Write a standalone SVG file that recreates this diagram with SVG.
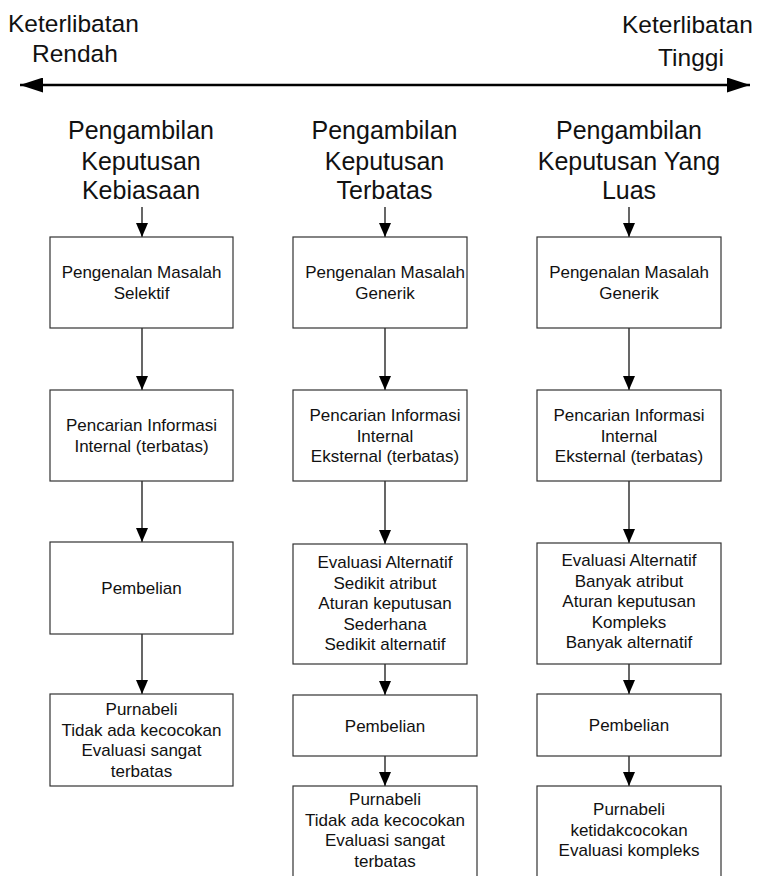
<svg xmlns="http://www.w3.org/2000/svg" width="759" height="876" viewBox="0 0 759 876">
  <defs>
    <marker id="head" markerUnits="userSpaceOnUse" markerWidth="14" markerHeight="12" viewBox="0 0 14 12" refX="14" refY="6" orient="auto">
      <path d="M0,0 L14,6 L0,12 z" fill="#000"/>
    </marker>
    <marker id="bigHead" markerUnits="userSpaceOnUse" markerWidth="23" markerHeight="15" viewBox="0 0 23 15" refX="23" refY="7.5" orient="auto-start-reverse">
      <path d="M0,0 L23,7.5 L0,15 z" fill="#000"/>
    </marker>
    <style>
      text { font-family: "Liberation Sans", Arial, sans-serif; fill: #111; }
      .axis { font-size: 24.5px; }
      .title { font-size: 25px; text-anchor: middle; }
      .lbl { font-size: 17px; text-anchor: middle; }
      .box { fill: #fff; stroke: #333; stroke-width: 1.2; }
      .conn { stroke: #000; stroke-width: 1.2; fill: none; marker-end: url(#head); }
    </style>
  </defs>

  <!-- involvement axis -->
  <g id="axis">
    <line x1="20" y1="85" x2="750" y2="85" stroke="#000" stroke-width="2.5" marker-start="url(#bigHead)" marker-end="url(#bigHead)"/>
    <text class="axis" x="8" y="32">Keterlibatan</text>
    <text class="axis" x="32" y="62">Rendah</text>
    <text class="axis" x="622" y="33">Keterlibatan</text>
    <text class="axis" x="658" y="66">Tinggi</text>
  </g>

  <!-- column headings -->
  <g id="title-habitual">
    <text class="title" x="141" y="139">Pengambilan</text>
    <text class="title" x="141" y="170">Keputusan</text>
    <text class="title" x="141" y="199">Kebiasaan</text>
  </g>
  <g id="title-limited">
    <text class="title" x="384.5" y="139">Pengambilan</text>
    <text class="title" x="384.5" y="170">Keputusan</text>
    <text class="title" x="384.5" y="199">Terbatas</text>
  </g>
  <g id="title-extended">
    <text class="title" x="629" y="139">Pengambilan</text>
    <text class="title" x="629" y="170">Keputusan Yang</text>
    <text class="title" x="629" y="199">Luas</text>
  </g>

  <!-- connectors -->
  <g id="connectors">
    <line class="conn" x1="142" y1="207" x2="142" y2="237"/>
    <line class="conn" x1="142" y1="328" x2="142" y2="390"/>
    <line class="conn" x1="142" y1="481" x2="142" y2="542"/>
    <line class="conn" x1="142" y1="634" x2="142" y2="694"/>

    <line class="conn" x1="385" y1="207" x2="385" y2="237"/>
    <line class="conn" x1="385" y1="328" x2="385" y2="390"/>
    <line class="conn" x1="385" y1="481" x2="385" y2="544"/>
    <line class="conn" x1="385" y1="664" x2="385" y2="695"/>
    <line class="conn" x1="385" y1="756" x2="385" y2="786"/>

    <line class="conn" x1="629" y1="207" x2="629" y2="237"/>
    <line class="conn" x1="629" y1="328" x2="629" y2="390"/>
    <line class="conn" x1="629" y1="481" x2="629" y2="543"/>
    <line class="conn" x1="629" y1="664" x2="629" y2="694"/>
    <line class="conn" x1="629" y1="756" x2="629" y2="786"/>
  </g>

  <!-- habitual decision making -->
  <g id="h-recognition">
    <rect class="box" x="50" y="237" width="183" height="91"/>
    <text class="lbl" x="141.5" y="278">Pengenalan Masalah</text>
    <text class="lbl" x="141.5" y="299">Selektif</text>
  </g>
  <g id="h-search">
    <rect class="box" x="50" y="390" width="183" height="91"/>
    <text class="lbl" x="141.5" y="431">Pencarian Informasi</text>
    <text class="lbl" x="141.5" y="452">Internal (terbatas)</text>
  </g>
  <g id="h-purchase">
    <rect class="box" x="50" y="542" width="183" height="92"/>
    <text class="lbl" x="141.5" y="594">Pembelian</text>
  </g>
  <g id="h-postpurchase">
    <rect class="box" x="50" y="694" width="183" height="92"/>
    <text class="lbl" x="141.5" y="715">Purnabeli</text>
    <text class="lbl" x="141.5" y="735.6">Tidak ada kecocokan</text>
    <text class="lbl" x="141.5" y="756.2">Evaluasi sangat</text>
    <text class="lbl" x="141.5" y="776.8">terbatas</text>
  </g>

  <!-- limited decision making -->
  <g id="l-recognition">
    <rect class="box" x="293" y="237" width="174" height="91"/>
    <text class="lbl" x="385" y="278">Pengenalan Masalah</text>
    <text class="lbl" x="385" y="299">Generik</text>
  </g>
  <g id="l-search">
    <rect class="box" x="293" y="390" width="174" height="91"/>
    <text class="lbl" x="385" y="421">Pencarian Informasi</text>
    <text class="lbl" x="385" y="441.6">Internal</text>
    <text class="lbl" x="385" y="462.2">Eksternal (terbatas)</text>
  </g>
  <g id="l-evaluation">
    <rect class="box" x="293" y="544" width="174" height="120"/>
    <text class="lbl" x="385" y="568">Evaluasi Alternatif</text>
    <text class="lbl" x="385" y="588.6">Sedikit atribut</text>
    <text class="lbl" x="385" y="609.2">Aturan keputusan</text>
    <text class="lbl" x="385" y="629.8">Sederhana</text>
    <text class="lbl" x="385" y="650.4">Sedikit alternatif</text>
  </g>
  <g id="l-purchase">
    <rect class="box" x="293" y="695" width="184" height="61"/>
    <text class="lbl" x="385" y="731.5">Pembelian</text>
  </g>
  <g id="l-postpurchase">
    <rect class="box" x="293" y="786" width="184" height="100"/>
    <text class="lbl" x="385" y="805">Purnabeli</text>
    <text class="lbl" x="385" y="825.6">Tidak ada kecocokan</text>
    <text class="lbl" x="385" y="846.2">Evaluasi sangat</text>
    <text class="lbl" x="385" y="866.8">terbatas</text>
  </g>

  <!-- extended decision making -->
  <g id="e-recognition">
    <rect class="box" x="537" y="237" width="184" height="91"/>
    <text class="lbl" x="629" y="278">Pengenalan Masalah</text>
    <text class="lbl" x="629" y="299">Generik</text>
  </g>
  <g id="e-search">
    <rect class="box" x="537" y="390" width="184" height="91"/>
    <text class="lbl" x="629" y="421">Pencarian Informasi</text>
    <text class="lbl" x="629" y="441.6">Internal</text>
    <text class="lbl" x="629" y="462.2">Eksternal (terbatas)</text>
  </g>
  <g id="e-evaluation">
    <rect class="box" x="537" y="543" width="184" height="121"/>
    <text class="lbl" x="629" y="566">Evaluasi Alternatif</text>
    <text class="lbl" x="629" y="586.6">Banyak atribut</text>
    <text class="lbl" x="629" y="607.2">Aturan keputusan</text>
    <text class="lbl" x="629" y="627.8">Kompleks</text>
    <text class="lbl" x="629" y="648.4">Banyak alternatif</text>
  </g>
  <g id="e-purchase">
    <rect class="box" x="537" y="694" width="184" height="62"/>
    <text class="lbl" x="629" y="731">Pembelian</text>
  </g>
  <g id="e-postpurchase">
    <rect class="box" x="537" y="786" width="184" height="100"/>
    <text class="lbl" x="629" y="815">Purnabeli</text>
    <text class="lbl" x="629" y="835.6">ketidakcocokan</text>
    <text class="lbl" x="629" y="856.2">Evaluasi kompleks</text>
  </g>
</svg>
